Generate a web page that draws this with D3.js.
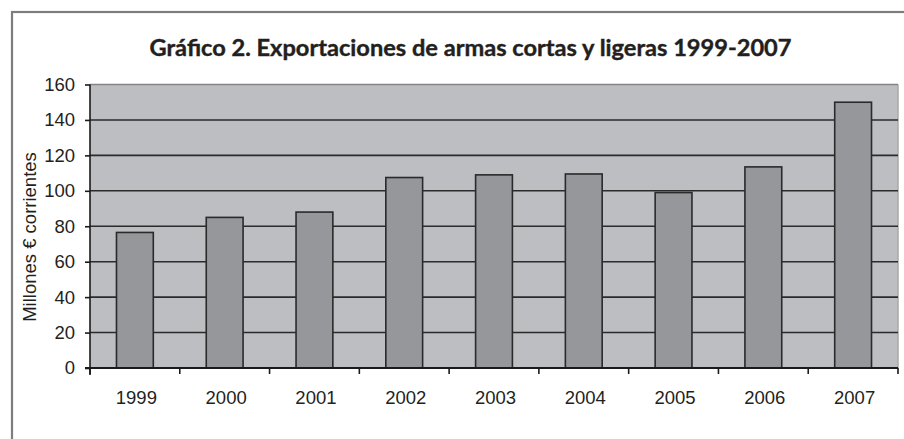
<!DOCTYPE html>
<html><head><meta charset="utf-8">
<script src="https://cdn.jsdelivr.net/npm/d3@7"></script>
<style>body{margin:0;background:#fff}svg{display:block}</style>
</head><body>
<script>
const years = ["1999","2000","2001","2002","2003","2004","2005","2006","2007"];
const values = [76.5, 85, 88, 107.5, 109, 109.5, 99, 113.5, 150];
const yTicks = [0,20,40,60,80,100,120,140,160];
const title = "Gráfico 2. Exportaciones de armas cortas y ligeras 1999-2007";
const yTitle = "Millones € corrientes";

const W = 904, H = 439;
const svg = d3.select("body").append("svg").attr("width", W).attr("height", H);
svg.append("rect").attr("width", W).attr("height", H).attr("fill", "#fff");
// outer frame (extends beyond right/bottom)
svg.append("rect").attr("x", 12).attr("y", 12).attr("width", 1000).attr("height", 1000)
  .attr("fill", "none").attr("stroke", "#7d7d7d").attr("stroke-width", 2.2);

const m = {l: 90, r: 898, t: 84.5, b: 368};
const x = d3.scaleBand().domain(years).range([m.l, m.r]).paddingInner(0).paddingOuter(0);
const y = d3.scaleLinear().domain([0,160]).range([m.b, m.t]);

svg.append("text").attr("x", 470.5).attr("y", 56).attr("text-anchor","middle")
  .attr("font-family","Lato, 'Open Sans', sans-serif").attr("font-weight","bold")
  .attr("font-size", 22.5).attr("fill","#231f20")
  .attr("stroke","#231f20").attr("stroke-width",0.4)
  .attr("textLength", 642).attr("lengthAdjust","spacingAndGlyphs").text(title);

// plot background
svg.append("rect").attr("x", m.l).attr("y", m.t).attr("width", m.r-m.l).attr("height", m.b-m.t)
  .attr("fill", "#bdbec1");
// right & top border
svg.append("line").attr("x1", m.r).attr("x2", m.r).attr("y1", m.t).attr("y2", m.b)
  .attr("stroke","#a8a8aa").attr("stroke-width",1.5);
svg.append("line").attr("x1", m.l).attr("x2", m.r).attr("y1", m.t).attr("y2", m.t)
  .attr("stroke","#858585").attr("stroke-width",1.5);

// gridlines
svg.append("g").selectAll("line").data(yTicks.filter(d => d>0 && d<160)).join("line")
  .attr("x1", m.l).attr("x2", m.r).attr("y1", d=>y(d)).attr("y2", d=>y(d))
  .attr("stroke","#2a2a2a").attr("stroke-width",1.6);

// bars
const bw = x.bandwidth()*0.41;
svg.append("g").selectAll("rect").data(values).join("rect")
  .attr("x", (d,i)=> x(years[i]) + x.bandwidth()/2 - bw/2)
  .attr("y", d=>y(d)).attr("width", bw).attr("height", d=>y(0)-y(d))
  .attr("fill","#96979b").attr("stroke","#2a2a2a").attr("stroke-width",1.6);

const fs = 18.5;
// y axis
const yAxis = d3.axisLeft(y).tickValues(yTicks).tickSize(5).tickPadding(10);
const gy = svg.append("g").attr("transform",`translate(${m.l},0)`).call(yAxis);
gy.select(".domain").remove();
gy.append("line").attr("x1",0).attr("x2",0).attr("y1",m.t).attr("y2",m.b+7)
  .attr("stroke","#1a1a1a").attr("stroke-width",1.6);
gy.selectAll(".tick line").attr("stroke","#1a1a1a").attr("stroke-width",1.6);
gy.selectAll(".tick text").attr("font-family","'Liberation Sans', Arial, sans-serif")
  .attr("font-size",fs).attr("fill","#231f20");

// x axis
const xb = d3.scaleLinear().domain([0, years.length]).range([m.l, m.r]);
svg.append("line").attr("x1", m.l-5).attr("x2", m.r).attr("y1", m.b).attr("y2", m.b)
  .attr("stroke","#1a1a1a").attr("stroke-width",1.8);
svg.append("g").selectAll("line").data(d3.range(years.length+1)).join("line")
  .attr("x1", d=>xb(d)).attr("x2", d=>xb(d)).attr("y1", m.b).attr("y2", m.b+6)
  .attr("stroke","#1a1a1a").attr("stroke-width",1.6);
svg.append("g").selectAll("text").data(years).join("text")
  .attr("x", d=> x(d)+x.bandwidth()/2 + 1.5).attr("y", 403.5)
  .attr("text-anchor","middle").attr("font-family","'Liberation Sans', Arial, sans-serif")
  .attr("font-size",fs).attr("fill","#231f20").text(d=>d);

// y title
svg.append("text").attr("transform","translate(36,237) rotate(-90)")
  .attr("text-anchor","middle").attr("font-family","'Liberation Sans', Arial, sans-serif")
  .attr("font-size",fs).attr("fill","#231f20").text(yTitle);
</script>
</body></html>
